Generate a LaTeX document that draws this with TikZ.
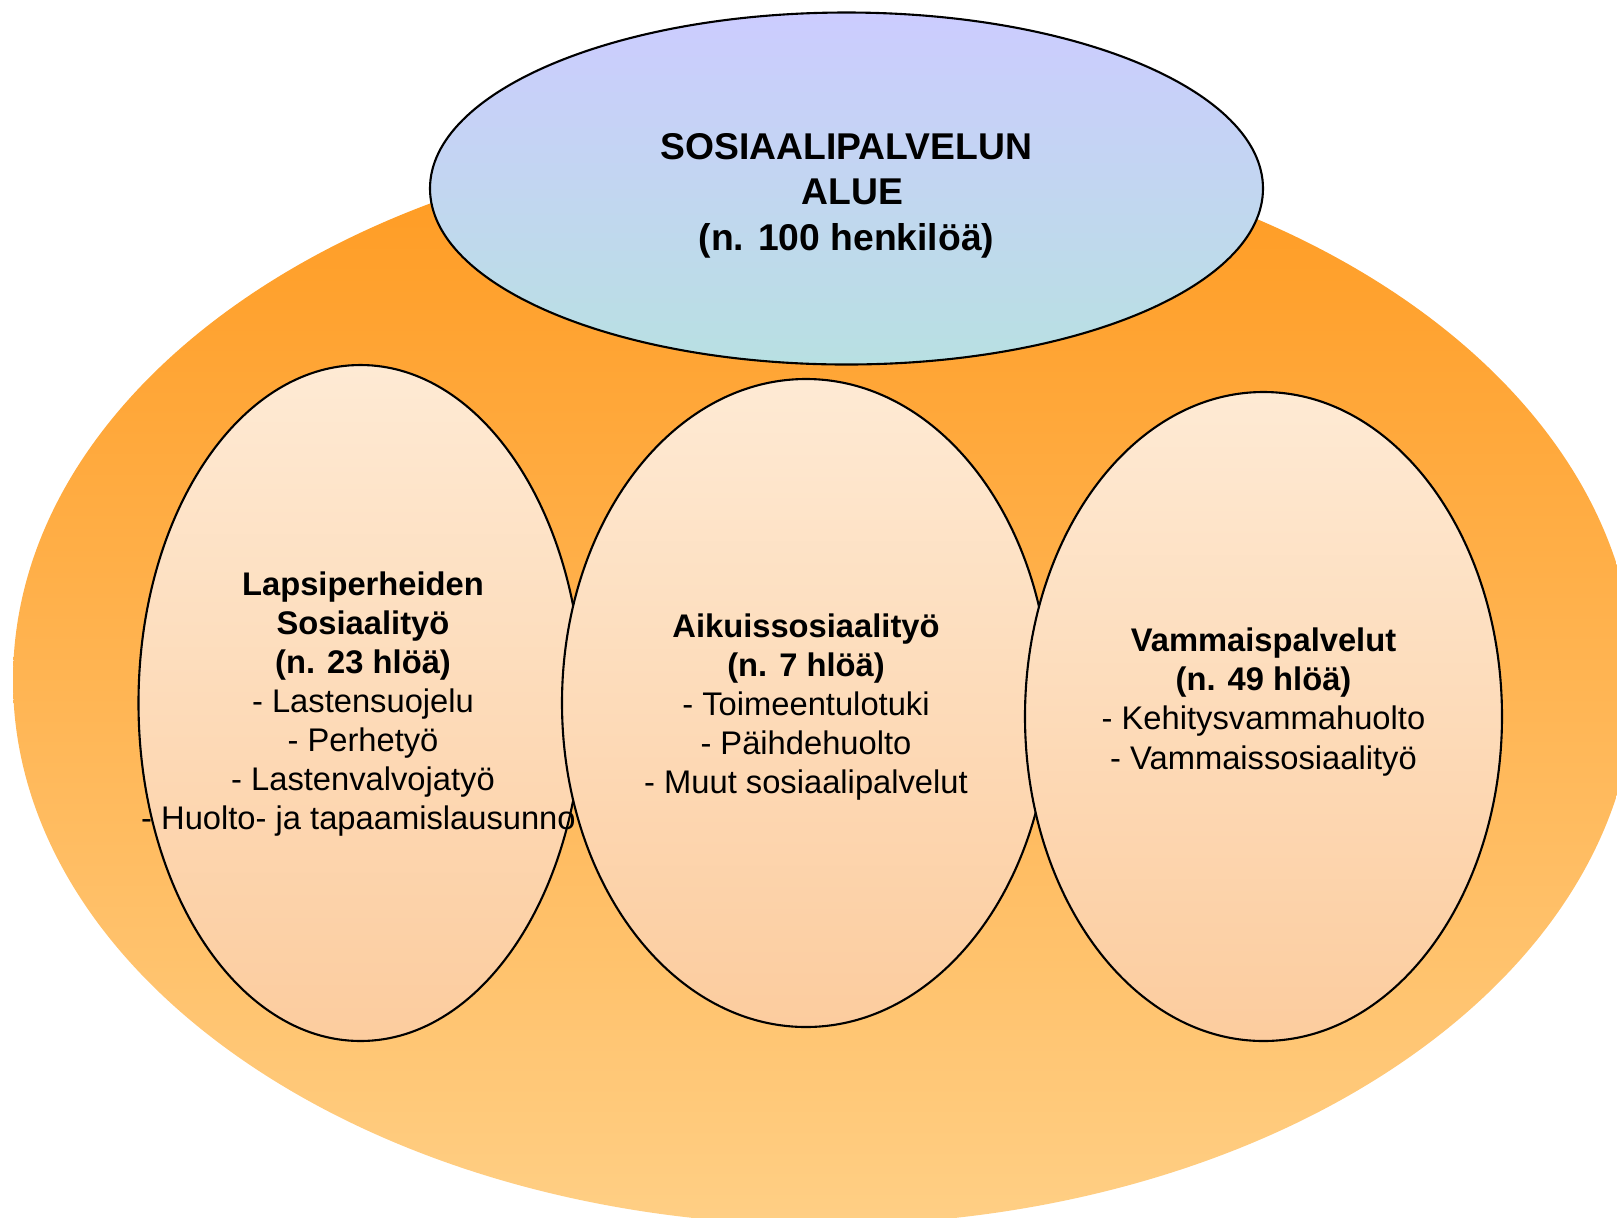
\documentclass[tikz,border=0pt]{standalone}
\usepackage{fontspec}
\setmainfont{Liberation Sans}
\usepackage{tikz}

\definecolor{oranssiYla}{RGB}{255,154,32}
\definecolor{oranssiAla}{RGB}{255,207,133}
\definecolor{sininenYla}{RGB}{204,204,255}
\definecolor{sininenAla}{RGB}{184,224,226}
\definecolor{persikkaYla}{RGB}{254,234,212}
\definecolor{persikkaAla}{RGB}{252,204,158}

\tikzset{
  pallo/.style={draw=black, line width=0.6pt, top color=persikkaYla, bottom color=persikkaAla},
  teksti/.style={align=center, font=\fontsize{9.3}{11.1}\selectfont},
  otsikko/.style={align=center, font=\bfseries\fontsize{10.6}{12.9}\selectfont},
}

\begin{document}
\begin{tikzpicture}[x=0.01cm, y=-0.01cm]
    \useasboundingbox (0,0) rectangle (1617,1217);
    \clip (0,0) rectangle (1617,1217);
    % koko alue
    \shade[top color=oranssiYla, bottom color=oranssiAla] (824,680) ellipse [x radius=811, y radius=545];
    \draw[line width=0.6pt, top color=sininenYla, bottom color=sininenAla] (846.5,188.5) ellipse [x radius=416.5, y radius=176];
    \node[otsikko] (alue) at (846.5,195.5) {SOSIAALIPALVELUN\\\hspace*{0.33em}ALUE\\(n. 100 henkilöä)};
    % osa-alueet
    \draw[pallo] (360.5,703) ellipse [x radius=222, y radius=338];
    \node[teksti] (lapsi) at (363,704) {\textbf{Lapsiperheiden}\\\textbf{Sosiaalityö}\\\textbf{(n. 23 hlöä)}\\- Lastensuojelu\\- Perhetyö\\- Lastenvalvojatyö\\- Huolto- ja tapaamislausunno\hphantom{t}};
    \draw[pallo] (806,703) ellipse [x radius=244, y radius=324];
    \node[teksti] (aikuis) at (806,707) {\textbf{Aikuissosiaalityö}\\\textbf{(n. 7 hlöä)}\\- Toimeentulotuki\\- Päihdehuolto\\- Muut sosiaalipalvelut};
    \draw[pallo] (1263.5,716.5) ellipse [x radius=238.5, y radius=324.5];
    \node[teksti] (vammais) at (1263.5,702) {\textbf{Vammaispalvelut}\\\textbf{(n. 49 hlöä)}\\- Kehitysvammahuolto\\- Vammaissosiaalityö};
\end{tikzpicture}
\end{document}
